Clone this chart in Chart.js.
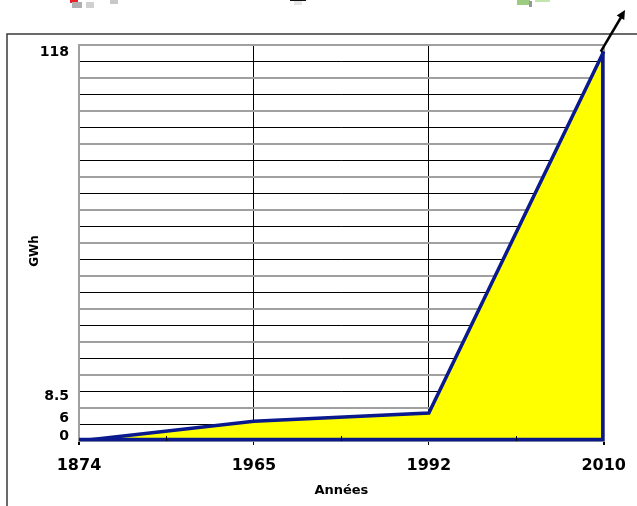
<!DOCTYPE html>
<html>
<head>
<meta charset="utf-8">
<script src="https://cdn.jsdelivr.net/npm/chart.js@4/dist/chart.umd.min.js"></script>
<style>
  html, body { margin: 0; padding: 0; background: #ffffff; }
  #c { display: block; }
</style>
</head>
<body>
<canvas id="c" width="637" height="506"></canvas>
<script>
// ---- data ----
const years = ['1874', '1965', '1992', '2010'];
const gwh = [0, 6, 8.5, 118];
const yTickLabels = ['0', '6', '8.5', '118'];
const yTickLabelPos = [1.5, 7, 13.6, 117.7];
const yMax = 120;
const yStep = 5;
const xTitle = 'Années';
const yTitle = 'GWh';

const FONT = "'DejaVu Sans', 'Liberation Sans', Arial, sans-serif";
const BLUE = '#0a1a8e';
const GRAY = '#a0a0a0';

const decor = {
  id: 'decor',
  beforeDraw(chart) {
    const ctx = chart.ctx;
    ctx.save();
    ctx.fillStyle = '#ffffff';
    ctx.fillRect(0, 0, chart.width, chart.height);
    // faint cropped fragments at the top edge
    ctx.fillStyle = '#e8202a'; ctx.fillRect(70, 0, 8, 3);
    ctx.fillStyle = '#b0b0b0'; ctx.fillRect(72, 2, 10, 6);
    ctx.fillStyle = '#d0d0d0'; ctx.fillRect(86, 2, 8, 6);
    ctx.fillStyle = '#c8c8c8'; ctx.fillRect(110, 0, 8, 4);
    ctx.fillStyle = '#111111'; ctx.fillRect(290, 0, 16, 1);
    ctx.fillStyle = '#e6e6e6'; ctx.fillRect(294, 1, 8, 4);
    ctx.fillStyle = '#9ccc80'; ctx.fillRect(517, 0, 13, 5);
    ctx.fillStyle = '#999999'; ctx.fillRect(529, 1, 3, 6);
    ctx.fillStyle = '#c4e4b0'; ctx.fillRect(535, 0, 15, 2);
    // outer frame
    ctx.strokeStyle = '#3a3a3a';
    ctx.lineWidth = 1.5;
    ctx.strokeRect(7, 34, 700, 600);
    ctx.restore();
  },
  afterDatasetsDraw(chart) {
    const ctx = chart.ctx;
    const xs = chart.scales.x, ys = chart.scales.y;
    const n = gwh.length;
    const x0 = xs.getPixelForValue(0);
    const xn = xs.getPixelForValue(n - 1);
    const yb = ys.getPixelForValue(0) - 1.5;
    const yt = ys.getPixelForValue(gwh[n - 1]);
    ctx.save();
    // close the area outline (right side and bottom)
    ctx.strokeStyle = BLUE;
    ctx.lineWidth = 3.5;
    ctx.lineJoin = 'miter';
    ctx.beginPath();
    ctx.moveTo(xn - 1, yt);
    ctx.lineTo(xn - 1, yb);
    ctx.lineTo(x0, yb);
    ctx.stroke();
    // minor ticks (inside) at mid categories
    ctx.strokeStyle = '#000';
    ctx.lineWidth = 1;
    const ab = chart.chartArea.bottom;
    for (let i = 0; i < n - 1; i++) {
      const xm = Math.round((xs.getPixelForValue(i) + xs.getPixelForValue(i + 1)) / 2) + 0.5;
      ctx.beginPath();
      ctx.moveTo(xm, ab);
      ctx.lineTo(xm, ab - 5);
      ctx.stroke();
    }
    // arrow
    const ax0 = xn - 3, ay0 = yt, ax1 = 625, ay1 = 10;
    ctx.strokeStyle = '#000';
    ctx.fillStyle = '#000';
    ctx.lineWidth = 2.5;
    ctx.beginPath();
    ctx.moveTo(ax0, ay0);
    ctx.lineTo(ax1 - 2, ay1 + 4);
    ctx.stroke();
    const ang = Math.atan2(ay1 - ay0, ax1 - ax0);
    const hl = 10, hw = 0.45;
    ctx.beginPath();
    ctx.moveTo(ax1, ay1);
    ctx.lineTo(ax1 - hl * Math.cos(ang - hw), ay1 - hl * Math.sin(ang - hw));
    ctx.lineTo(ax1 - hl * Math.cos(ang + hw), ay1 - hl * Math.sin(ang + hw));
    ctx.closePath();
    ctx.fill();
    // titles
    ctx.fillStyle = '#000';
    ctx.textAlign = 'center';
    ctx.textBaseline = 'middle';
    ctx.font = 'bold 13px ' + FONT;
    ctx.fillText(xTitle, (chart.chartArea.left + chart.chartArea.right) / 2, 491);
    ctx.translate(35, 251);
    ctx.rotate(-Math.PI / 2);
    ctx.font = 'bold 12px ' + FONT;
    ctx.fillText(yTitle, 0, 0);
    ctx.restore();
  }
};

new Chart(document.getElementById('c'), {
  type: 'line',
  data: {
    labels: years,
    datasets: [{
      data: gwh,
      fill: 'origin',
      backgroundColor: '#ffff00',
      borderColor: BLUE,
      borderWidth: 3.5,
      tension: 0,
      pointRadius: 0,
      pointHoverRadius: 0
    }]
  },
  options: {
    responsive: false,
    animation: false,
    devicePixelRatio: 1,
    layout: { padding: { top: 45, right: 33, left: 0, bottom: 0 } },
    plugins: { legend: { display: false }, tooltip: { enabled: false } },
    scales: {
      x: {
        type: 'category',
        offset: false,
        afterFit(scale) { scale.height = 65; },
        border: { display: true, color: GRAY, width: 2 },
        grid: {
          color: (c) => (c.index === 1 || c.index === 2) ? '#000000' : GRAY,
          lineWidth: (c) => (c.index === 1 || c.index === 2) ? 1 : 2,
          tickColor: '#000000',
          tickLength: 4,
          drawTicks: true
        },
        ticks: {
          color: '#000',
          font: { family: FONT, size: 16, weight: 'bold' },
          padding: 11,
          maxRotation: 0,
          autoSkip: false
        }
      },
      y: {
        type: 'linear',
        position: 'left',
        weight: 0,
        min: 0,
        max: yMax,
        afterFit(scale) { scale.width = 0; },
        border: { display: true, color: GRAY, width: 2 },
        grid: {
          color: (c) => (c.tick && c.tick.value % 10 === 0) ? GRAY : '#000000',
          lineWidth: (c) => (c.tick && c.tick.value % 10 === 0) ? 2 : 1,
          drawTicks: false
        },
        ticks: { display: false, stepSize: yStep }
      },
      yl: {
        type: 'linear',
        position: 'left',
        weight: 1,
        min: 0,
        max: yMax,
        afterFit(scale) { scale.width = 79; },
        afterBuildTicks(scale) { scale.ticks = yTickLabelPos.map(v => ({ value: v })); },
        border: { display: false },
        grid: { display: false, drawTicks: false },
        ticks: {
          autoSkip: false,
          color: '#000',
          padding: 10,
          font: { family: FONT, size: 14, weight: 'bold' },
          callback: (v, i) => yTickLabels[i]
        }
      }
    }
  },
  plugins: [decor]
});
</script>
</body>
</html>
